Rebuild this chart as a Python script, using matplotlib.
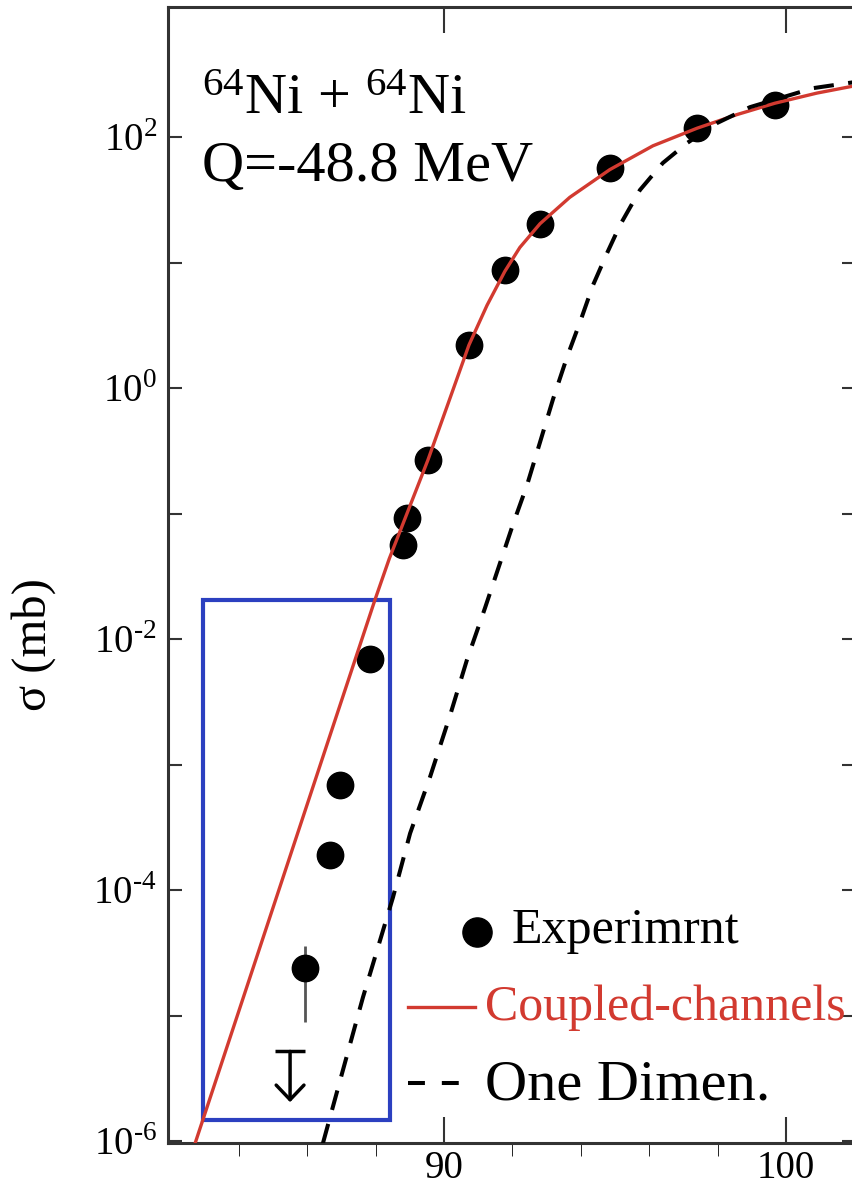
import math
import matplotlib
matplotlib.use("Agg")
from matplotlib import pyplot as plt
from matplotlib.patches import Rectangle
from matplotlib.ticker import FixedLocator, FuncFormatter

# experimental fusion cross sections (E in MeV, sigma in mb)
exp_e = [85.94, 86.67, 86.96, 87.84, 88.80, 88.92, 89.53, 90.73, 91.78, 92.81, 94.85, 97.40, 99.68]
exp_sig = [2.4e-5, 1.9e-4, 6.9e-4, 6.9e-3, 0.056, 0.092, 0.267, 2.2, 8.7, 20.3, 56.6, 118, 180]

# error bar of the lowest measured point
err_e = [85.94]
err_low = [8.9e-6]
err_high = [3.6e-5]

# upper limit
ul_e = 85.50
ul_sig = 5.2e-6
ul_tip = 2.05e-6

# coupled-channels calculation
cc_e = [82.72, 86.67, 87.98, 88.40, 88.86, 89.53, 90.09, 90.73, 91.26, 91.78, 92.22, 92.81,
        93.68, 94.85, 96.11, 97.40, 98.57, 99.68, 100.91, 102.05]
cc_sig = [9.6e-7, 1.72e-3, 0.0205, 0.0437, 0.0912, 0.267, 0.713, 2.2, 4.57, 8.51, 13.2, 20.4,
          33.1, 55.0, 85.1, 117.5, 151, 186, 224, 257]

# one-dimensional calculation
od_e = [86.46, 87.02, 87.63, 88.51, 89.01, 89.59, 90.18, 90.67, 91.20, 91.64, 92.02, 92.43,
        92.81, 93.19, 93.60, 93.98, 94.36, 94.77, 95.15, 95.73, 96.40, 97.11, 97.98, 98.95,
        100.79, 102.05]
od_sig = [9.64e-7, 3.48e-6, 1.40e-5, 8.8e-5, 2.84e-4, 7.94e-4, 2.48e-3, 6.81e-3, 0.0177, 0.0404,
          0.0824, 0.169, 0.371, 0.817, 1.77, 3.36, 6.62, 11.9, 19.9, 37.8, 62.1, 89.6, 129, 173,
          245, 275]

# highlighted region
box_e = (82.95, 88.42)
box_sig = (1.47e-6, 0.0205)

plt.rcParams['font.family'] = ['Liberation Serif', 'DejaVu Serif']
plt.rcParams['mathtext.fontset'] = 'custom'
plt.rcParams['mathtext.rm'] = 'Liberation Serif'

red = '#d23a30'
blue = '#2b40c0'

fig = plt.figure(figsize=(8.53, 11.85), dpi=100)
ax = fig.add_axes([168 / 853, 42 / 1185, 688 / 853, 1136 / 1185])

ax.errorbar(err_e, [exp_sig[0]], yerr=[[exp_sig[0] - err_low[0]], [err_high[0] - exp_sig[0]]],
            fmt='none', ecolor='#555555', elinewidth=2.0, zorder=2)
ax.plot(exp_e, exp_sig, 'o', color='black', markersize=19, zorder=3)
ax.plot(ul_e, ul_sig, marker='_', color='black', markersize=21, markeredgewidth=2.5, zorder=3)
ax.annotate('', xy=(ul_e, ul_tip), xytext=(ul_e, ul_sig),
            arrowprops=dict(arrowstyle='->,head_length=1.05,head_width=1.0', lw=2.5,
                            color='black', shrinkA=0, shrinkB=0, mutation_scale=10))

ax.add_patch(Rectangle((box_e[0], box_sig[0]), box_e[1] - box_e[0], box_sig[1] - box_sig[0],
                       fill=False, edgecolor=blue, linewidth=3, zorder=2.5))

ax.plot(cc_e, cc_sig, color=red, linewidth=2.4, zorder=4)
ax.plot(od_e, od_sig, color='black', linewidth=2.9, dashes=(5, 3.6), zorder=4)

ax.set_yscale('log')
ax.set_xlim(81.93, 102.05)
ax.set_ylim(9.7e-7, 1086)

ax.yaxis.set_major_locator(FixedLocator([10.0 ** k for k in range(-6, 3)]))
ax.yaxis.set_minor_locator(FixedLocator([]))


def ylab(v, pos):
    k = int(round(math.log10(v)))
    if k % 2:
        return ''
    return r'10$^{\text{%d}}$' % k


ax.yaxis.set_major_formatter(FuncFormatter(ylab))
ax.xaxis.set_major_locator(FixedLocator([90, 100]))
ax.xaxis.set_minor_locator(FixedLocator([84, 86, 88, 92, 94, 96, 98, 102]))
ax.xaxis.set_major_formatter(FuncFormatter(lambda v, p: '%d' % v))

ax.tick_params(direction='in', top=True, right=True, width=1.5, color='#333333', labelsize=28)
ax.tick_params(axis='y', which='major', length=10, pad=8)
ax.tick_params(axis='x', which='major', length=19, pad=5)
ax.tick_params(axis='x', which='minor', length=9.5)
for s in ax.spines.values():
    s.set_linewidth(2.2)
    s.set_color('#333333')

ax.text(-0.195, 0.439, 'σ (mb)', transform=ax.transAxes, rotation=90,
        ha='center', va='center', fontsize=35)

ax.text(0.0494, 0.9058, r'$\mathregular{^{64}}$Ni + $\mathregular{^{64}}$Ni', transform=ax.transAxes,
        fontsize=42, va='baseline')
ax.text(0.0494, 0.8468, 'Q=-48.8 MeV', transform=ax.transAxes, fontsize=42, va='baseline')

# legend drawn by hand
ax.plot([0.4491], [0.1857], 'o', color='black', markersize=21, transform=ax.transAxes, clip_on=False)
ax.text(0.5, 0.1761, 'Experimrnt', transform=ax.transAxes, fontsize=36, va='baseline')
ax.plot([0.3488, 0.4462], [0.1197, 0.1197], color=red, linewidth=2.4, transform=ax.transAxes)
ax.text(0.4608, 0.1083, 'Coupled-channels', transform=ax.transAxes, fontsize=36,
        va='baseline', color=red)
ax.plot([0.3488, 0.4244], [0.0528, 0.0528], color='black', linewidth=2.9, dashes=(4.2, 4.2),
        transform=ax.transAxes)
ax.text(0.4608, 0.0379, 'One Dimen.', transform=ax.transAxes, fontsize=42, va='baseline')

fig.savefig('out.png', dpi=100)
